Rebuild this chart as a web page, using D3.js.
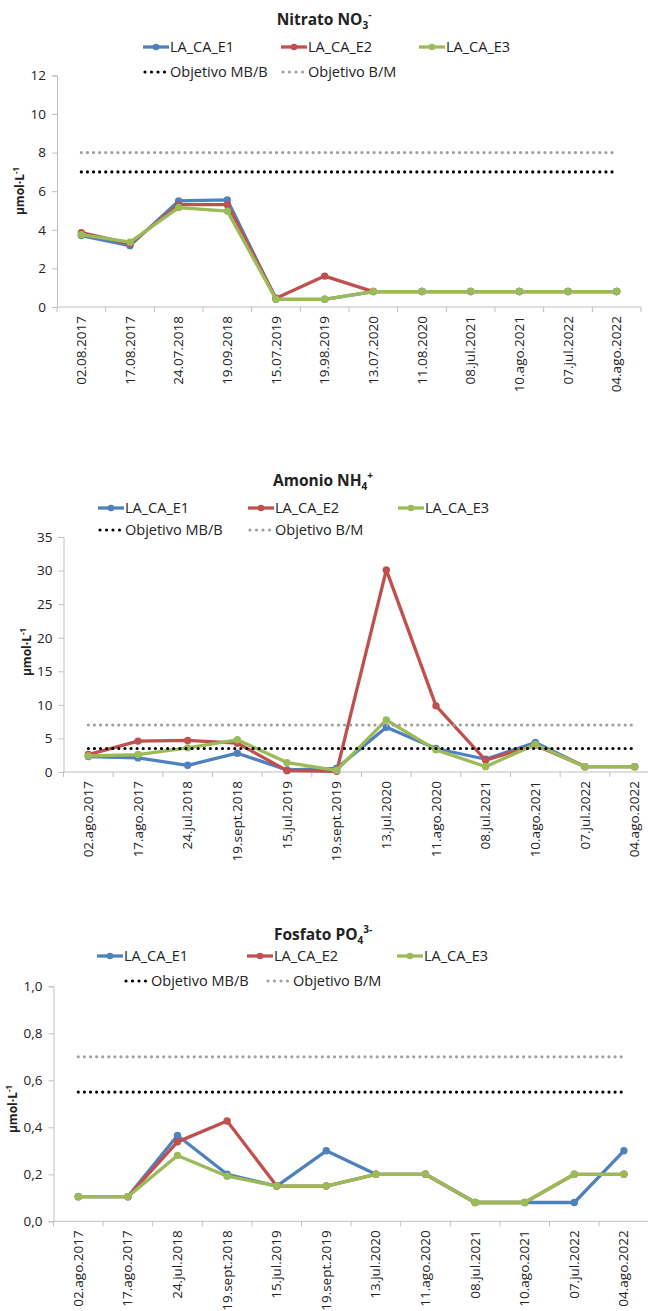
<!DOCTYPE html>
<html>
<head>
<meta charset="utf-8">
<script src="https://cdn.jsdelivr.net/npm/d3@7"></script>
<style>
  html, body { margin: 0; padding: 0; background: #fff; }
  svg text { font-family: "Open Sans", "Noto Sans", sans-serif; fill: #222; }
</style>
</head>
<body>
<svg id="chart" width="648" height="1311"></svg>
<script>
// Sampling dates
const datesNitrate = ["02.08.2017","17.08.2017","24.07.2018","19.09.2018","15.07.2019","19.98.2019",
  "13.07.2020","11.08.2020","08.jul.2021","10.ago.2021","07.jul.2022","04.ago.2022"];
const datesOther = ["02.ago.2017","17.ago.2017","24.jul.2018","19.sept.2018","15.jul.2019","19.sept.2019",
  "13.jul.2020","11.ago.2020","08.jul.2021","10.ago.2021","07.jul.2022","04.ago.2022"];

const seriesNames = ["LA_CA_E1", "LA_CA_E2", "LA_CA_E3"];
const targetNames = ["Objetivo MB/B", "Objetivo B/M"];

// Nitrato NO3- (µmol·L-1)
const nitrateE1 = [3.70, 3.18, 5.50, 5.55, 0.40, 0.40, 0.80, 0.80, 0.80, 0.80, 0.80, 0.80];
const nitrateE2 = [3.85, 3.28, 5.30, 5.30, 0.45, 1.60, 0.80, 0.80, 0.80, 0.80, 0.80, 0.80];
const nitrateE3 = [3.75, 3.36, 5.15, 4.97, 0.40, 0.40, 0.80, 0.80, 0.80, 0.80, 0.80, 0.80];
const nitrateTargets = [7, 8];
const nitrateTicks = [0, 2, 4, 6, 8, 10, 12];

// Amonio NH4+ (µmol·L-1)
const ammoniumE1 = [2.3, 2.1, 1.0, 2.8, 0.3, 0.55, 6.65, 3.5, 1.9, 4.4, 0.8, 0.8];
const ammoniumE2 = [2.6, 4.6, 4.7, 4.3, 0.2, 0.1, 30.1, 9.85, 1.75, 4.0, 0.8, 0.8];
const ammoniumE3 = [2.4, 2.6, 3.6, 4.8, 1.4, 0.25, 7.75, 3.3, 0.8, 4.1, 0.8, 0.8];
const ammoniumTargets = [3.5, 7];
const ammoniumTicks = [0, 5, 10, 15, 20, 25, 30, 35];

// Fosfato PO4 3- (µmol·L-1)
const phosphateE1 = [0.105, 0.105, 0.365, 0.200, 0.150, 0.300, 0.200, 0.200, 0.080, 0.080, 0.080, 0.300];
const phosphateE2 = [0.105, 0.105, 0.338, 0.427, 0.150, 0.150, 0.200, 0.200, 0.080, 0.080, 0.200, 0.200];
const phosphateE3 = [0.105, 0.105, 0.280, 0.192, 0.150, 0.150, 0.200, 0.200, 0.080, 0.080, 0.200, 0.200];
const phosphateTargets = [0.55, 0.70];
const phosphateTicks = [0, 0.2, 0.4, 0.6, 0.8, 1.0];

const seriesColors = ["#4F81BD", "#C0504D", "#9BBB59"];
const targetColors = ["#000000", "#A0A0A0"];
const axisColor = "#BFBFBF";

const svg = d3.select("#chart");

function drawChart(opts) {
  const g = svg.append("g");
  const x = d3.scaleBand().domain(opts.dates).range([opts.x0, opts.x1]);
  const y = d3.scaleLinear().domain([0, opts.ymax]).range([opts.yBottom, opts.yTop]);
  const cx = d => x(d) + x.bandwidth() / 2;

  // Title with sub/superscripts
  const t = g.append("text").attr("x", opts.titleX).attr("y", opts.titleY)
    .attr("text-anchor", "middle").attr("font-size", 15.5).attr("font-weight", "bold");
  t.append("tspan").text(opts.title[0]);
  t.append("tspan").text(opts.title[1]).attr("font-size", 10).attr("dy", 4);
  t.append("tspan").text(opts.title[2]).attr("font-size", 10).attr("dy", -11);

  // Y axis
  const yAxis = d3.axisLeft(y).tickValues(opts.ticks).tickSize(5).tickPadding(6)
    .tickFormat(opts.fmt);
  const ya = g.append("g").attr("transform", `translate(${opts.x0},0)`).call(yAxis);
  ya.select(".domain").attr("stroke", axisColor);
  ya.selectAll(".tick line").attr("stroke", axisColor);
  ya.selectAll(".tick text").attr("font-size", 13.5).attr("fill", "#222");

  // X axis: ticks at band boundaries
  const xa = g.append("g").attr("transform", `translate(0,${opts.yBottom})`);
  xa.append("line").attr("x1", opts.x0).attr("x2", opts.x1).attr("stroke", axisColor);
  const bounds = opts.dates.map(d => x(d)).concat([opts.x1]);
  xa.selectAll("line.tk").data(bounds).join("line").attr("class", "tk")
    .attr("x1", d => d).attr("x2", d => d).attr("y1", 0).attr("y2", 5).attr("stroke", axisColor);
  xa.selectAll("text").data(opts.dates).join("text")
    .attr("transform", d => `translate(${cx(d) + 4.5},9) rotate(-90)`)
    .attr("text-anchor", "end").attr("font-size", 13.5).text(d => d);

  // Y axis title
  const yl = g.append("text")
    .attr("transform", `translate(${opts.ylabX},${opts.ylabY}) rotate(-90)`)
    .attr("text-anchor", "middle").attr("font-size", 12).attr("font-weight", "bold");
  yl.append("tspan").text("µmol·L");
  yl.append("tspan").text("-1").attr("font-size", 8).attr("dy", -5);

  // Series lines and markers
  opts.series.forEach((vals, i) => {
    const line = d3.line().x((v, j) => cx(opts.dates[j])).y(v => y(v));
    g.append("path").datum(vals).attr("d", line).attr("fill", "none")
      .attr("stroke", seriesColors[i]).attr("stroke-width", 3.3).attr("stroke-linejoin", "round");
    g.selectAll(null).data(vals).join("circle")
      .attr("cx", (v, j) => cx(opts.dates[j])).attr("cy", v => y(v)).attr("r", 3.7)
      .attr("fill", seriesColors[i]);
  });

  // Target lines (round-dotted)
  opts.targets.forEach((v, i) => {
    g.append("line")
      .attr("x1", cx(opts.dates[0])).attr("x2", cx(opts.dates[opts.dates.length - 1]))
      .attr("y1", y(v)).attr("y2", y(v))
      .attr("stroke", targetColors[i]).attr("stroke-width", 3.2)
      .attr("stroke-linecap", "round").attr("stroke-dasharray", "0 6.1");
  });

  // Legend
  const L = opts.legend;
  seriesNames.forEach((name, i) => {
    const lx = L.row1[i], ly = L.y1;
    g.append("line").attr("x1", lx).attr("x2", lx + 26).attr("y1", ly).attr("y2", ly)
      .attr("stroke", seriesColors[i]).attr("stroke-width", 3.3);
    g.append("circle").attr("cx", lx + 13).attr("cy", ly).attr("r", 3.3).attr("fill", seriesColors[i]);
    g.append("text").attr("x", lx + 27).attr("y", ly + 5).attr("font-size", 14.5).text(name);
  });
  targetNames.forEach((name, i) => {
    const lx = L.row2[i], ly = L.y2;
    g.append("line").attr("x1", lx + 2).attr("x2", lx + 24).attr("y1", ly).attr("y2", ly)
      .attr("stroke", targetColors[i]).attr("stroke-width", 3.2)
      .attr("stroke-linecap", "round").attr("stroke-dasharray", "0 6.5");
    g.append("text").attr("x", lx + 27).attr("y", ly + 5).attr("font-size", 14.5).text(name);
  });
}

const commaFmt = d => d3.format(".1f")(d).replace(".", ",");

drawChart({
  title: ["Nitrato NO", "3", "-"], titleX: 324, titleY: 25,
  dates: datesNitrate, series: [nitrateE1, nitrateE2, nitrateE3], targets: nitrateTargets,
  ticks: nitrateTicks, ymax: 12, fmt: d3.format("d"),
  x0: 57, x1: 641, yTop: 75.4, yBottom: 307,
  ylabX: 24, ylabY: 191,
  legend: { y1: 47, y2: 72, row1: [143, 281, 419], row2: [143, 281] }
});

drawChart({
  title: ["Amonio NH", "4", "+"], titleX: 323, titleY: 486,
  dates: datesOther, series: [ammoniumE1, ammoniumE2, ammoniumE3], targets: ammoniumTargets,
  ticks: ammoniumTicks, ymax: 35, fmt: d3.format("d"),
  x0: 63.5, x1: 659.5, yTop: 537, yBottom: 772,
  ylabX: 31, ylabY: 652,
  legend: { y1: 508, y2: 530, row1: [98, 248, 398], row2: [98, 248] }
});

drawChart({
  title: ["Fosfato PO", "4", "3-"], titleX: 323, titleY: 940,
  dates: datesOther, series: [phosphateE1, phosphateE2, phosphateE3], targets: phosphateTargets,
  ticks: phosphateTicks, ymax: 1.0, fmt: commaFmt,
  x0: 53.5, x1: 648.7, yTop: 986.3, yBottom: 1221.3,
  ylabX: 17, ylabY: 1109,
  legend: { y1: 956, y2: 981, row1: [97, 247, 397], row2: [124, 266] }
});
</script>
</body>
</html>
